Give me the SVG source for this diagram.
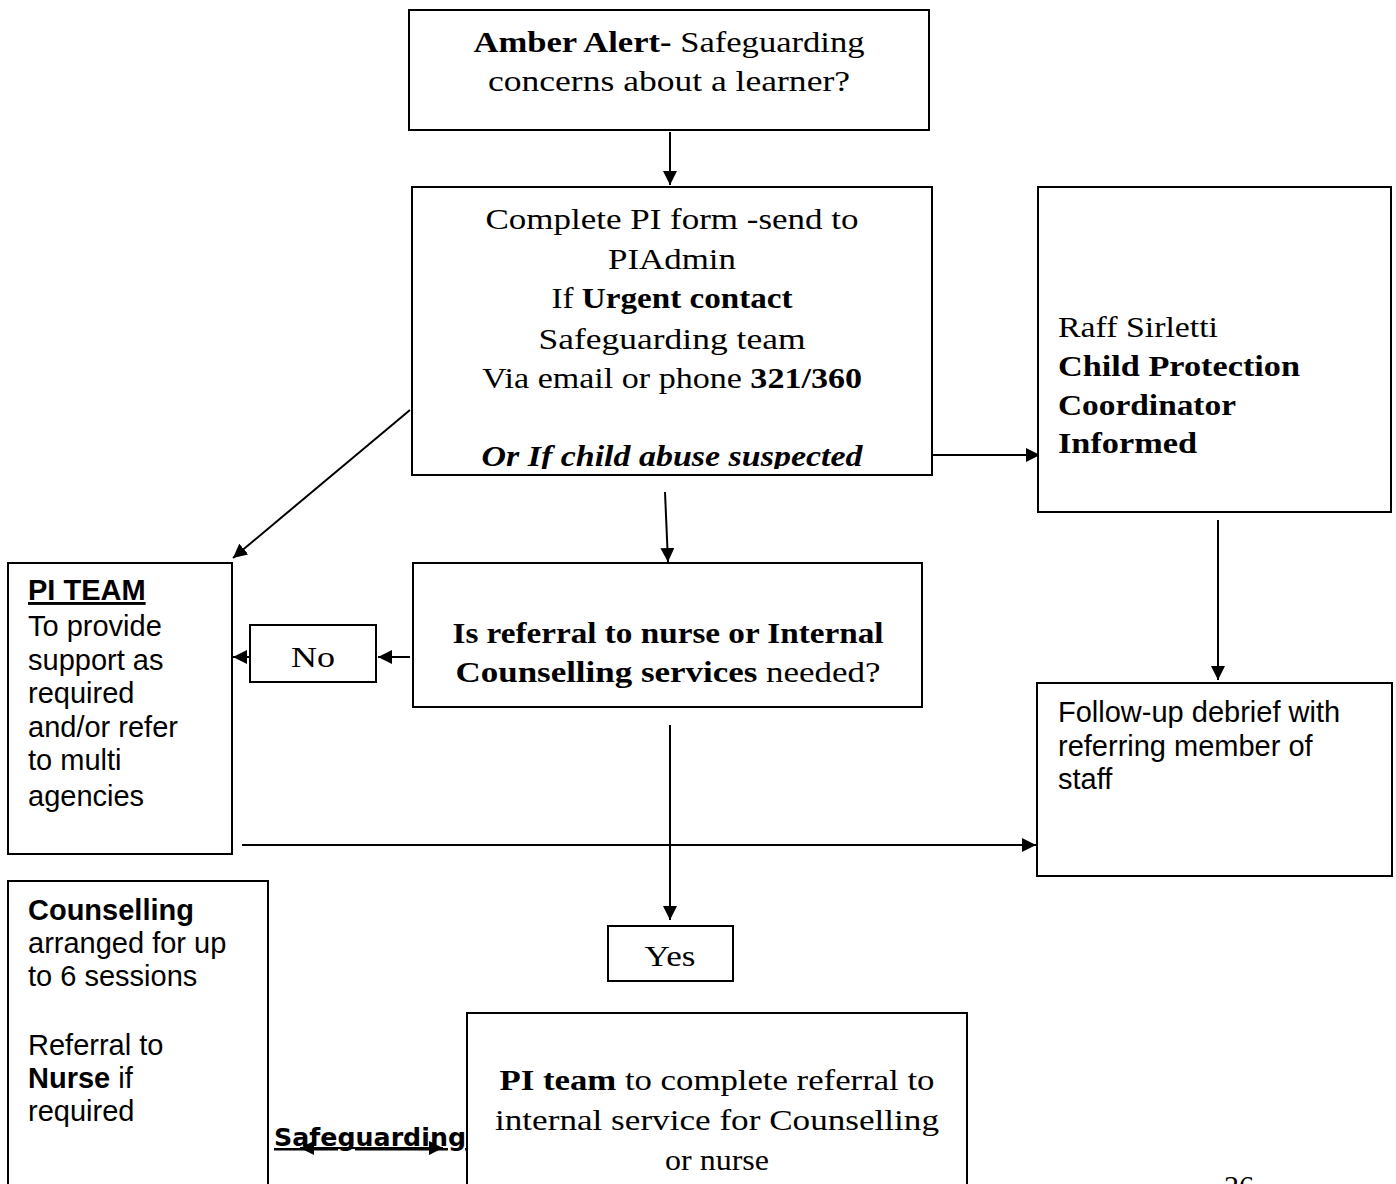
<svg xmlns="http://www.w3.org/2000/svg" width="1396" height="1184" viewBox="0 0 1396 1184">
<style>
.box{fill:#fff;stroke:#000;stroke-width:2}
.ln{fill:none;stroke:#000;stroke-width:2}
.sr{font-family:"Liberation Serif","DejaVu Serif",serif;font-size:30px;fill:#000}
.ss{font-family:"Liberation Sans",Arial,sans-serif;font-size:29px;fill:#000}
.b{font-weight:bold}
.c{text-anchor:middle}
</style>
<defs>
<marker id="ah" viewBox="0 0 10 10" refX="10" refY="5" markerWidth="14" markerHeight="14" markerUnits="userSpaceOnUse" orient="auto">
<path d="M0,0L10,5L0,10z" fill="#000"/>
</marker>
<marker id="ahs" viewBox="0 0 10 10" refX="0" refY="5" markerWidth="14" markerHeight="14" markerUnits="userSpaceOnUse" orient="auto">
<path d="M10,0L0,5L10,10z" fill="#000"/>
</marker>
<clipPath id="c2"><rect x="412" y="187" width="520" height="282"/></clipPath>
</defs>
<g id="connectors">
<line class="ln" x1="670" y1="132" x2="670" y2="185" marker-end="url(#ah)"/>
<line class="ln" x1="933" y1="455" x2="1040" y2="455" marker-end="url(#ah)"/>
<line class="ln" x1="1218" y1="520" x2="1218" y2="680" marker-end="url(#ah)"/>
<line class="ln" x1="410" y1="410" x2="233" y2="558" marker-end="url(#ah)"/>
<line class="ln" x1="665" y1="492" x2="668" y2="562" marker-end="url(#ah)"/>
<line class="ln" x1="410" y1="657" x2="378" y2="657" marker-end="url(#ah)"/>
<line class="ln" x1="250" y1="657" x2="233" y2="657" marker-end="url(#ah)"/>
<line class="ln" x1="242" y1="845" x2="1036" y2="845" marker-end="url(#ah)"/>
<line class="ln" x1="670" y1="725" x2="670" y2="920" marker-end="url(#ah)"/>
<line class="ln" x1="300" y1="1148" x2="443" y2="1148" marker-start="url(#ahs)" marker-end="url(#ah)"/>
</g>
<g id="n1">
<rect class="box" x="409" y="10" width="520" height="120"/>
<text class="sr c" x="669" y="52" textLength="391" lengthAdjust="spacingAndGlyphs"><tspan class="b">Amber Alert-</tspan> Safeguarding</text>
<text class="sr c" x="669" y="91" textLength="362" lengthAdjust="spacingAndGlyphs">concerns about a learner?</text>
</g>
<g id="n2">
<rect class="box" x="412" y="187" width="520" height="288"/>
<g clip-path="url(#c2)">
<text class="sr c" x="672" y="229" textLength="373" lengthAdjust="spacingAndGlyphs">Complete PI form -send to</text>
<text class="sr c" x="672" y="269" textLength="128" lengthAdjust="spacingAndGlyphs">PIAdmin</text>
<text class="sr c" x="672" y="308" textLength="241" lengthAdjust="spacingAndGlyphs">If <tspan class="b">Urgent contact</tspan></text>
<text class="sr c" x="672" y="349" textLength="267" lengthAdjust="spacingAndGlyphs">Safeguarding team</text>
<text class="sr c" x="672" y="388" textLength="380" lengthAdjust="spacingAndGlyphs">Via email or phone <tspan class="b">321/360</tspan></text>
<text class="sr c b" x="672" y="466" font-style="italic" textLength="381" lengthAdjust="spacingAndGlyphs">Or If child abuse suspected</text>
</g>
</g>
<g id="n3">
<rect class="box" x="1038" y="187" width="353" height="325"/>
<text class="sr" x="1058" y="337" textLength="160" lengthAdjust="spacingAndGlyphs">Raff Sirletti</text>
<text class="sr b" x="1058" y="376" textLength="242" lengthAdjust="spacingAndGlyphs">Child Protection</text>
<text class="sr b" x="1058" y="415" textLength="178" lengthAdjust="spacingAndGlyphs">Coordinator</text>
<text class="sr b" x="1058" y="453" textLength="139" lengthAdjust="spacingAndGlyphs">Informed</text>
</g>
<g id="n4">
<rect class="box" x="1037" y="683" width="355" height="193"/>
<text class="ss" x="1058" y="722">Follow-up debrief with</text>
<text class="ss" x="1058" y="756">referring member of</text>
<text class="ss" x="1058" y="789">staff</text>
</g>
<g id="n5">
<rect class="box" x="8" y="563" width="224" height="291"/>
<text class="ss b" x="28" y="600" text-decoration="underline">PI TEAM</text>
<text class="ss" x="28" y="636">To provide</text>
<text class="ss" x="28" y="670">support as</text>
<text class="ss" x="28" y="703">required</text>
<text class="ss" x="28" y="737">and/or refer</text>
<text class="ss" x="28" y="770">to multi</text>
<text class="ss" x="28" y="806">agencies</text>
</g>
<g id="n6">
<rect class="box" x="413" y="563" width="509" height="144"/>
<text class="sr c b" x="668" y="643" textLength="431" lengthAdjust="spacingAndGlyphs">Is referral to nurse or Internal</text>
<text class="sr c" x="668" y="682" textLength="425" lengthAdjust="spacingAndGlyphs"><tspan class="b">Counselling services</tspan> needed?</text>
</g>
<g id="n7">
<rect class="box" x="250" y="625" width="126" height="57"/>
<text class="sr c" x="313" y="667" textLength="44" lengthAdjust="spacingAndGlyphs">No</text>
</g>
<g id="n8">
<rect class="box" x="608" y="926" width="125" height="55"/>
<text class="sr c" x="670" y="966" textLength="51" lengthAdjust="spacingAndGlyphs">Yes</text>
</g>
<g id="n9">
<rect class="box" x="8" y="881" width="260" height="320"/>
<text class="ss b" x="28" y="920">Counselling</text>
<text class="ss" x="28" y="953">arranged for up</text>
<text class="ss" x="28" y="986">to 6 sessions</text>
<text class="ss" x="28" y="1055">Referral to</text>
<text class="ss" x="28" y="1088"><tspan class="b">Nurse</tspan> if</text>
<text class="ss" x="28" y="1121">required</text>
</g>
<g id="n10">
<text x="274" y="1146" font-family="DejaVu Sans" font-weight="bold" font-size="25" text-decoration="underline" textLength="192" lengthAdjust="spacingAndGlyphs">Safeguarding</text>
</g>
<g id="n11">
<rect class="box" x="467" y="1013" width="500" height="190"/>
<text class="sr c" x="717" y="1090" textLength="435" lengthAdjust="spacingAndGlyphs"><tspan class="b">PI team</tspan> to complete referral to</text>
<text class="sr c" x="717" y="1130" textLength="444" lengthAdjust="spacingAndGlyphs">internal service for Counselling</text>
<text class="sr c" x="717" y="1170" textLength="104" lengthAdjust="spacingAndGlyphs">or nurse</text>
</g>
<text class="sr" x="1224" y="1196">26</text>
</svg>
